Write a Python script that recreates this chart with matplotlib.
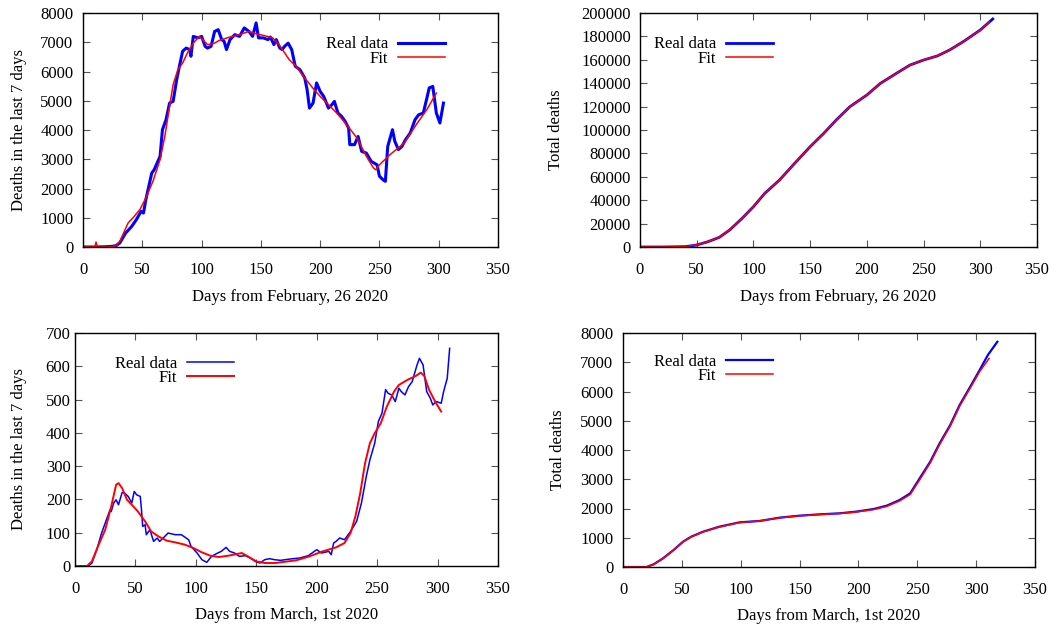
import matplotlib
matplotlib.use("Agg")
import matplotlib.pyplot as plt

# ---------------- data ----------------
# Panel 1: weekly deaths (days from February 26 2020)
br_days = [0, 10, 20, 25, 28, 31, 36, 41, 45, 49, 51, 53, 58, 60, 65, 67, 70, 73, 76, 79,
           81, 84, 87, 90, 91, 93, 97, 100, 103, 105, 108, 111, 114, 117, 119, 121, 124, 128,
           132, 136, 140, 143, 146, 148, 152, 156, 158, 161, 163, 166, 168, 170, 173, 176, 179,
           183, 187, 189, 191, 194, 197, 200, 203, 207, 210, 212, 215, 218, 221, 224, 225, 229,
           232, 235, 239, 243, 248, 250, 253, 255, 257, 261, 263, 266, 269, 272, 276, 280, 283,
           287, 290, 292, 295, 298, 301, 304]
br_week = [0, 0, 10, 25, 50, 137, 480, 700, 935, 1220, 1160, 1620, 2530, 2640, 3100, 4010, 4350,
           4920, 4980, 5720, 6120, 6690, 6800, 6750, 6520, 7200, 7150, 7200, 6860, 6800, 6860,
           7370, 7430, 7090, 7030, 6750, 7090, 7260, 7200, 7490, 7370, 7200, 7660, 7150, 7150,
           7090, 7180, 6920, 7090, 6800, 6750, 6860, 6970, 6750, 6180, 6060, 5780, 5380, 4750,
           4920, 5610, 5320, 5150, 4750, 4870, 4980, 4580, 4470, 4300, 4070, 3500, 3500, 3780,
           3270, 3210, 2930, 2810, 2420, 2300, 2245, 3440, 4010, 3610, 3330, 3440, 3670, 3900,
           4350, 4520, 4580, 5090, 5440, 5490, 4580, 4240, 4920]
br_fit_days = [0, 10, 11, 12, 20, 27, 31, 38, 42, 48, 53, 59, 65, 69, 73, 76, 80, 84, 88, 93,
               98, 101, 105, 110, 115, 124, 132, 140, 146, 153, 160, 166, 174, 180, 186, 194,
               200, 214, 222, 231, 239, 245, 247, 250, 259, 271, 282, 290, 298]
br_fit_week = [0, 0, 170, 0, 0, 30, 190, 820, 990, 1280, 1675, 2245, 2990, 3780, 4810, 5550,
               6060, 6290, 6630, 6970, 7200, 7090, 6920, 6950, 7065, 7180, 7260, 7370, 7290,
               7225, 7150, 6880, 6400, 6165, 5830, 5425, 5150, 4580, 4200, 3730, 3100, 2700,
               2640, 2810, 3160, 3560, 4240, 4700, 5260]

# Panel 2: total deaths (days from February 26 2020)
br_tot_days = [0, 20, 40, 50, 60, 70, 79, 90, 100, 110, 123, 135, 150, 162, 173, 185, 200, 212,
               226, 238, 250, 262, 273, 285, 300, 306, 311]
br_tot = [0, 0, 300, 1700, 4560, 8290, 14500, 24500, 34450, 45870, 57260, 70085, 85730, 97150,
          108550, 119900, 129900, 139900, 148400, 155500, 159800, 163250, 168400, 175500,
          185470, 190600, 194900]
br_tot_fit_days = [0, 20, 40, 50, 60, 70, 79, 90, 100, 110, 123, 135, 150, 162, 173, 185, 200,
                   212, 226, 238, 250, 262, 273, 285, 300, 308]
br_tot_fit = [0, 0, 350, 1800, 4600, 8400, 14600, 24600, 34500, 45900, 57300, 70100, 85700,
              97100, 108500, 119800, 129900, 139800, 148300, 155400, 159900, 163300, 168300,
              175400, 185300, 192300]

# Panel 3: weekly deaths (days from March 1st 2020)
hu_days = [0, 11, 14, 18, 22, 26, 29, 30, 32, 34, 36, 39, 41, 44, 47, 49, 51, 54, 55, 56, 58,
           59, 62, 65, 68, 70, 73, 77, 83, 88, 94, 96, 101, 105, 109, 113, 117, 121, 125, 128,
           132, 136, 141, 145, 149, 153, 157, 161, 165, 170, 178, 186, 193, 200, 204, 210, 212,
           214, 216, 219, 223, 228, 233, 237, 241, 244, 248, 251, 254, 257, 259, 262, 265, 268,
           270, 273, 276, 279, 283, 285, 288, 291, 294, 296, 299, 303, 305, 308, 310]
hu_week = [0, 0, 9, 49, 99, 139, 169, 164, 189, 199, 184, 221, 219, 209, 189, 224, 214, 209, 169,
           119, 124, 94, 109, 74, 84, 74, 84, 99, 94, 94, 79, 59, 39, 19, 11, 29, 37, 44, 56, 44,
           39, 29, 31, 24, 14, 9, 19, 22, 19, 17, 21, 24, 31, 49, 39, 44, 34, 69, 74, 84, 79, 104,
           134, 189, 269, 319, 369, 434, 459, 530, 519, 514, 494, 534, 524, 514, 539, 554, 604,
           624, 604, 524, 504, 484, 494, 489, 524, 564, 654]
hu_fit_days = [0, 10, 14, 19, 25, 30, 34, 36, 39, 43, 47, 52, 58, 63, 69, 76, 83, 91, 98, 105,
               112, 119, 127, 138, 143, 150, 157, 166, 170, 183, 194, 205, 216, 223, 228, 232,
               236, 240, 244, 248, 253, 258, 264, 268, 275, 282, 286, 289, 293, 298, 303]
hu_fit_week = [0, 0, 14, 59, 109, 179, 244, 249, 234, 199, 184, 164, 134, 104, 89, 76, 71, 64,
               54, 41, 31, 27, 31, 39, 29, 14, 9, 9, 11, 17, 29, 44, 56, 69, 99, 149, 219, 309,
               369, 399, 429, 479, 524, 544, 559, 571, 581, 571, 529, 494, 464]

# Panel 4: total deaths (days from March 1st 2020)
hu_tot_days = [0, 20, 26, 34, 43, 51, 58, 68, 82, 99, 116, 133, 150, 167, 184, 198, 213, 224,
               235, 244, 252, 261, 269, 278, 286, 295, 303, 310, 318]
hu_tot = [0, 0, 91, 296, 581, 866, 1037, 1208, 1379, 1527, 1573, 1687, 1755, 1800, 1835, 1892,
          1983, 2097, 2290, 2518, 3030, 3600, 4230, 4855, 5540, 6165, 6735, 7250, 7700]
hu_tot_fit_days = [0, 20, 26, 34, 43, 51, 58, 68, 82, 99, 116, 133, 150, 167, 184, 198, 213,
                   224, 235, 244, 252, 261, 269, 278, 286, 295, 303, 311]
hu_tot_fit = [0, 0, 85, 290, 575, 860, 1030, 1200, 1370, 1520, 1575, 1680, 1750, 1795, 1830,
              1880, 1965, 2070, 2260, 2480, 2980, 3560, 4190, 4820, 5500, 6120, 6680, 7130]

x_ticks = [0, 50, 100, 150, 200, 250, 300, 350]
label_real = "Real data"
label_fit = "Fit"
xlabel_top = "Days from February, 26 2020"
xlabel_bottom = "Days from March, 1st 2020"
ylabel_week = "Deaths in the last 7 days"
ylabel_total = "Total deaths"

# ---------------- style ----------------
W, H = 1056, 629
plt.rcParams['font.family'] = ['Liberation Serif', 'DejaVu Serif']
plt.rcParams['font.size'] = 12
BLUE = '#0000ff'
RED = '#ff0000'

fig = plt.figure(figsize=(W / 100, H / 100), dpi=100)


def px_axes(x0, y0, x1, y1):
    return fig.add_axes([x0 / W, 1 - y1 / H, (x1 - x0) / W, (y1 - y0) / H])


def style(ax, ymax, ystep, ypad, xlabel, ylabel, ylab_x, xlab_y):
    ax.set_xlim(0, 350)
    ax.set_ylim(0, ymax)
    ax.set_xticks(x_ticks)
    ax.set_yticks(list(range(0, ymax + 1, ystep)))
    ax.tick_params(axis='both', which='both', direction='in', length=5, width=0.8,
                   color='#555555', top=True, right=True, labelsize=12)
    ax.tick_params(axis='x', pad=10.5)
    ax.tick_params(axis='y', pad=ypad)
    for s in ax.spines.values():
        s.set_linewidth(1.0)
        s.set_color('black')
    ax.set_xlabel(xlabel, fontsize=12)
    ax.set_ylabel(ylabel, fontsize=12)
    ax.xaxis.set_label_coords(0.5, xlab_y)
    ax.yaxis.set_label_coords(ylab_x, 0.5)


def legend(ax, x, y):
    ax.legend(loc='upper right', bbox_to_anchor=(x, y), frameon=False, markerfirst=False,
              handlelength=2.8, handletextpad=0.6, labelspacing=-0.1, borderpad=0,
              borderaxespad=0, fontsize=12)


# Panel 1
ax1 = px_axes(83, 13, 498, 247)
ax1.plot(br_days, br_week, color=BLUE, lw=2.2, label=label_real)
ax1.plot(br_fit_days, br_fit_week, color=RED, lw=1.1, label=label_fit)
style(ax1, 8000, 1000, 7, xlabel_top, ylabel_week, -0.135, -0.179)
legend(ax1, 0.872, 0.900)

# Panel 2
ax2 = px_axes(640, 13, 1037, 247)
ax2.plot(br_tot_days, br_tot, color=BLUE, lw=2.0, label=label_real)
ax2.plot(br_tot_fit_days, br_tot_fit, color=RED, lw=1.1, label=label_fit)
style(ax2, 200000, 20000, 6.5, xlabel_top, ylabel_total, -0.191, -0.179)
legend(ax2, 0.335, 0.900)

# Panel 3
ax3 = px_axes(75, 333, 498, 566)
ax3.plot(hu_days, hu_week, color=BLUE, lw=1.1, label=label_real)
ax3.plot(hu_fit_days, hu_fit_week, color=RED, lw=1.4, label=label_fit)
style(ax3, 700, 100, 3.2, xlabel_bottom, ylabel_week, -0.114, -0.176)
legend(ax3, 0.376, 0.903)

# Panel 4
ax4 = px_axes(623, 333, 1035, 567)
ax4.plot(hu_tot_days, hu_tot, color=BLUE, lw=1.6, label=label_real)
ax4.plot(hu_tot_fit_days, hu_tot_fit, color=RED, lw=1.1, label=label_fit)
style(ax4, 8000, 1000, 7, xlabel_bottom, ylabel_total, -0.139, -0.176)
legend(ax4, 0.364, 0.912)

fig.savefig("out.png", dpi=100)
